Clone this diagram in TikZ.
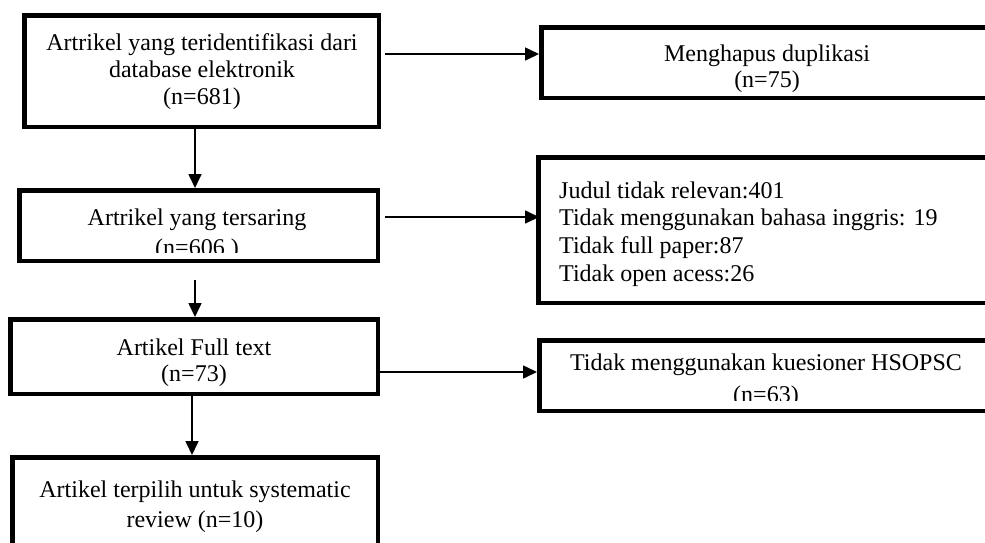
\documentclass[tikz,border=0pt]{standalone}
\usepackage{fontspec}
\setmainfont{Liberation Serif}
\usetikzlibrary{arrows.meta}
\tikzset{
  box/.style={draw, line width=4.5pt, inner sep=0pt, rectangle},
  txt/.style={font=\fontsize{24pt}{28pt}\selectfont, inner sep=0pt, align=center},
  txtl/.style={font=\fontsize{24pt}{27.7pt}\selectfont, inner sep=0pt, align=left},
  arr/.style={line width=1.6pt, -{Triangle[length=14pt,width=13pt]}}
}
\begin{document}
\begin{tikzpicture}[x=1pt,y=-1pt]
\useasboundingbox (0,0) rectangle (985,542);
\fill[white] (0,0) rectangle (985,542);
% boxes
\node[box, minimum width=354.5pt, minimum height=111.5pt] (b1) at (201.5,71) {};
\node[box, minimum width=358.5pt, minimum height=70.5pt] (b2) at (198.5,225.5) {};
\node[box, minimum width=466.5pt, minimum height=70.5pt] (b3) at (774.5,62.5) {};
\node[box, minimum width=469.5pt, minimum height=145.5pt] (b4) at (773,230) {};
\node[box, minimum width=367.5pt, minimum height=74.5pt] (b5) at (194,356.5) {};
\node[box, minimum width=365.5pt, minimum height=110.5pt] (b6) at (195,512.5) {};
\node[box, minimum width=468.5pt, minimum height=70.5pt] (b7) at (773.5,375.5) {};
% texts
\node[txt, anchor=base] (t1a) at (202,50) {Artrikel yang teridentifikasi dari};
\node[txt, anchor=base] (t1b) at (202,77) {database elektronik};
\node[txt, anchor=base] (t1c) at (202,104) {(n=681)};
\node[txt, anchor=base] (t2a) at (197,225) {Artrikel yang tersaring};
\begin{scope}
\clip (0,0) rectangle (985,252);
\node[txt, anchor=base] (t2b) at (197,255) {(n=606 )};
\end{scope}
\node[txt, anchor=base] (t3a) at (767,61) {Menghapus duplikasi};
\node[txt, anchor=base] (t3b) at (767,87) {(n=75)};
\node[txtl, anchor=base west] (t4a) at (559,198) {Judul tidak relevan:401};
\node[txtl, anchor=base west] (t4b) at (559,225) {Tidak menggunakan bahasa inggris: 19};
\node[txtl, anchor=base west] (t4c) at (559,253) {Tidak full paper:87};
\node[txtl, anchor=base west] (t4d) at (559,281) {Tidak open acess:26};
\node[txt, anchor=base] (t5a) at (194,355) {Artikel Full text};
\node[txt, anchor=base] (t5b) at (194,381) {(n=73)};
\node[txt, anchor=base] (t6a) at (195,497) {Artikel terpilih untuk systematic};
\node[txt, anchor=base] (t6b) at (195,527) {review (n=10)};
\node[txt, anchor=base] (t7a) at (766,370) {Tidak menggunakan kuesioner HSOPSC};
\begin{scope}
\clip (0,0) rectangle (985,400);
\node[txt, anchor=base] (t7b) at (766,402) {(n=63)};
\end{scope}
% connectors
\draw[arr] (b1.south -| 195,0) -- (b2.north -| 195,0);
\draw[arr, shorten <=17pt] (b2.south -| 195,0) -- (b5.north -| 195,0);
\draw[arr] (b5.south -| 192,0) -- (b6.north -| 192,0);
\draw[arr, shorten <=4pt] (b1.east |- 0,54) -- (b3.west |- 0,54);
\draw[arr, shorten <=5pt, shorten >=-3pt] (b2.east |- 0,217) -- (b4.west |- 0,217);
\draw[arr] (b5.east |- 0,372) -- (b7.west |- 0,372);
\end{tikzpicture}
\end{document}
